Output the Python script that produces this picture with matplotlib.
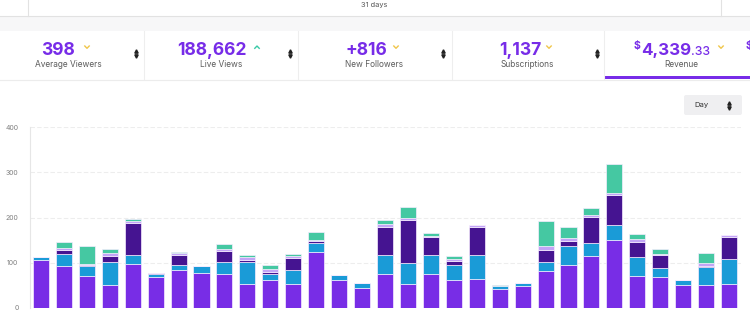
import matplotlib
matplotlib.use("Agg")
import matplotlib.pyplot as plt
import numpy as np
from matplotlib.patches import Rectangle, FancyBboxPatch

plt.rcParams['font.family'] = ['Inter', 'DejaVu Sans']

# stacked daily values, bottom to top
days = list(range(1, 32))
purple = [106, 92, 70, 51, 97, 68, 84, 78, 76, 54, 62, 54, 123, 62, 45, 76,
          54, 76, 62, 65, 42, 49, 82, 94, 114, 150, 70, 69, 50, 50, 54]
blue = [6, 28, 22, 50, 21, 7, 11, 15, 25, 47, 14, 31, 20, 12, 11, 42,
        45, 42, 32, 53, 7, 7, 19, 43, 29, 33, 42, 19, 12, 40, 55]
dark = [0, 8, 3, 15, 69, 3, 23, 0, 25, 5, 3, 25, 5, 0, 0, 62,
        95, 38, 9, 60, 0, 0, 27, 12, 59, 66, 33, 30, 0, 3, 47]
lavender = [0, 5, 3, 5, 5, 0, 3, 0, 5, 6, 7, 5, 2, 0, 0, 6,
            5, 4, 5, 6, 0, 0, 9, 6, 4, 5, 7, 2, 0, 6, 5]
teal = [0, 12, 39, 9, 5, 0, 3, 0, 10, 6, 9, 5, 17, 0, 0, 8,
        25, 5, 7, 0, 2, 0, 56, 23, 14, 65, 12, 10, 0, 22, 0]
y_ticks = [0, 100, 200, 300, 400]

kpi_values = ["398", "188,662", "+816", "1,137"]
kpi_labels = ["Average Viewers", "Live Views", "New Followers", "Subscriptions"]

W, H = 750, 321
fig = plt.figure(figsize=(W / 100, H / 100), dpi=100)
fig.patch.set_facecolor("white")

# pixel-coordinate overlay for the dashboard chrome
bg = fig.add_axes([0, 0, 1, 1], zorder=0)
bg.set_xlim(0, W)
bg.set_ylim(H, 0)
bg.axis("off")

PURPLE_TXT = "#772ce8"

# top bar
bg.add_patch(Rectangle((0, 16), W, 15, color="#f7f7f8", lw=0))
bg.plot([0, W], [16, 16], color="#e2e2e2", lw=0.8)
bg.plot([28, 28], [0, 16], color="#e2e2e2", lw=0.8)
bg.plot([721, 721], [0, 16], color="#e2e2e2", lw=0.8)
bg.text(374, 5.5, "31 days", ha="center", va="center", fontsize=5.3, color="#555555")

# kpi cards
bg.plot([0, W], [79.5, 79.5], color="#ececec", lw=0.8)
for sx in [144, 298, 452, 604]:
    bg.plot([sx, sx], [31, 79], color="#eeeeee", lw=0.8)

centers = [58, 212, 366, 520]
label_centers = [68, 221, 374, 527]
chev_x = [87, 257, 396, 549]
sort_x = [136, 290, 443, 597]
for i in range(4):
    bg.text(centers[i], 55, kpi_values[i], ha="center", va="baseline", fontsize=12.6,
            fontweight="bold", color=PURPLE_TXT)
    bg.text(label_centers[i], 67, kpi_labels[i], ha="center", va="baseline",
            fontsize=6, color="#5c5c5c")
    if i == 1:
        bg.plot([chev_x[i] - 2.2, chev_x[i], chev_x[i] + 2.2], [48.3, 46, 48.3],
                color="#38c9a6", lw=1.0)
    else:
        bg.plot([chev_x[i] - 2.2, chev_x[i], chev_x[i] + 2.2], [46, 48.3, 46],
                color="#f0c64a", lw=1.0)

# revenue card: "$" + "4,339" + ".33" placed side by side
fig.canvas.draw()
renderer = fig.canvas.get_renderer()
main = bg.text(641, 55, "4,339", ha="left", va="baseline", fontsize=12.2,
               fontweight="bold", color=PURPLE_TXT)
bb = main.get_window_extent(renderer=renderer)
x_end = bg.transData.inverted().transform((bb.x1, bb.y0))[0]
bg.text(x_end + 0.2, 55, ".33", ha="left", va="baseline", fontsize=8.8,
        fontweight="medium", color=PURPLE_TXT)
bg.text(640.5, 49.5, "$", ha="right", va="baseline", fontsize=7.5, fontweight="bold",
        color=PURPLE_TXT)
bg.plot([718.8, 721, 723.2], [46, 48.3, 46], color="#f0c64a", lw=1.0)
bg.text(681, 67, "Revenue", ha="center", va="baseline", fontsize=6, color="#5c5c5c")
bg.add_patch(Rectangle((604, 75.5), W - 604, 3, color=PURPLE_TXT, lw=0))
# next card peeks in at the right edge
bg.text(745.5, 49.5, "$", ha="left", va="baseline", fontsize=7.5, fontweight="bold",
        color=PURPLE_TXT)

# sort arrows
for sx in sort_x:
    bg.plot([sx], [50.8], marker="^", ms=2.4, color="#222222", lw=0)
    bg.plot([sx], [55.6], marker="v", ms=2.4, color="#222222", lw=0)

# Day dropdown
bg.add_patch(FancyBboxPatch((684, 95), 58, 20, boxstyle="round,pad=0,rounding_size=2",
                            fc="#efeff1", ec="none"))
bg.text(694, 105.5, "Day", ha="left", va="center", fontsize=5.5, color="#333333")
bg.plot([729], [103.2], marker="^", ms=2.4, color="#222222", lw=0)
bg.plot([729], [107.8], marker="v", ms=2.4, color="#222222", lw=0)

# chart
ax = fig.add_axes([29.5 / W, (H - 308) / H, 711 / W, 181 / H], zorder=1)
ax.set_facecolor("none")
x = np.arange(len(days))
series = [purple, blue, dark, lavender, teal]
colors = ["#782de6", "#1a9bd7", "#451491", "#c2a4f6", "#45c8a2"]
bottom = np.zeros(len(days))
for vals, c in zip(series, colors):
    vals = np.array(vals, dtype=float)
    ax.bar(x, vals, bottom=bottom, width=0.7, color=c, edgecolor="#f6ecff", linewidth=0.5)
    bottom += vals

ax.set_xlim(-0.5, len(days) - 0.5)
ax.set_ylim(0, 400)
ax.set_yticks(y_ticks)
ax.set_yticklabels([str(t) for t in y_ticks])
ax.tick_params(axis="y", length=0, labelsize=5, labelcolor="#808080", pad=8)
ax.set_xticks([])
for t in y_ticks[1:]:
    ax.axhline(t, color="#ededed", lw=0.8, ls=(0, (4, 2)), zorder=0)
for s in ["top", "right", "bottom"]:
    ax.spines[s].set_visible(False)
ax.spines["left"].set_color("#e6e6e6")
ax.spines["left"].set_linewidth(0.8)

fig.savefig("out.png", dpi=100, facecolor="white")
